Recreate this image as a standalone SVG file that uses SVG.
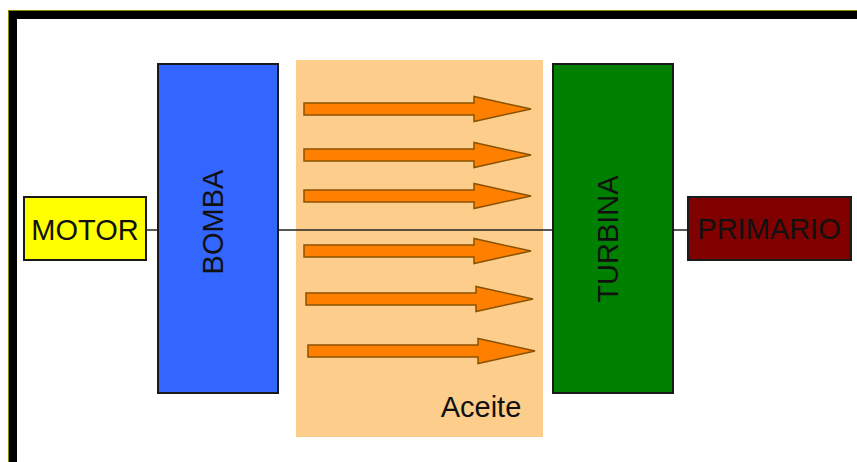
<svg xmlns="http://www.w3.org/2000/svg" width="857" height="462" viewBox="0 0 857 462">
  <style>
    .box { stroke: #1a1a1a; stroke-width: 2; }
    .lbl { font-family: "Liberation Sans", Arial, sans-serif; font-size: 29px; fill: #111; text-anchor: middle; }
    .flow { fill: #ff8000; stroke: #8a5200; stroke-width: 1.5; stroke-linejoin: miter; }
    .shaft { stroke: #222; stroke-width: 1.5; fill: none; }
  </style>
  <defs>
    <!-- block arrow, tail at origin, pointing right -->
    <path id="blockArrow" d="M0,-6 L170,-6 L170,-12.5 L227,0 L170,12.5 L170,6 L0,6 Z"/>
  </defs>

  <rect x="0" y="0" width="857" height="462" fill="#fff"/>

  <!-- frame -->
  <rect x="8.5" y="10.5" width="900" height="500" fill="none" stroke="#8a8a00" stroke-width="1"/>
  <rect x="13" y="15" width="900" height="500" fill="none" stroke="#000" stroke-width="8"/>

  <!-- oil region -->
  <g id="aceite">
    <rect x="296" y="60" width="247" height="377" fill="#fdcd8b"/>
    <text class="lbl" x="481" y="417">Aceite</text>
  </g>

  <!-- drive shaft -->
  <g id="connectors">
    <line class="shaft" x1="146" y1="230" x2="158" y2="230"/>
    <line class="shaft" x1="278" y1="230" x2="553" y2="230"/>
    <line class="shaft" x1="673" y1="230" x2="688" y2="230"/>
  </g>

  <!-- oil flow arrows -->
  <g id="flow">
    <use href="#blockArrow" class="flow" transform="translate(304,109)"/>
    <use href="#blockArrow" class="flow" transform="translate(304,155)"/>
    <use href="#blockArrow" class="flow" transform="translate(304,196)"/>
    <use href="#blockArrow" class="flow" transform="translate(304,251)"/>
    <use href="#blockArrow" class="flow" transform="translate(306,299)"/>
    <use href="#blockArrow" class="flow" transform="translate(308,351)"/>
  </g>

  <g id="motor">
    <rect class="box" x="24" y="197" width="122" height="63" fill="#ffff00"/>
    <text class="lbl" x="85" y="240">MOTOR</text>
  </g>

  <g id="bomba">
    <rect class="box" x="158" y="64" width="120" height="329" fill="#3366ff"/>
    <text class="lbl" transform="translate(223,222) rotate(-90)">BOMBA</text>
  </g>

  <g id="turbina">
    <rect class="box" x="553" y="64" width="120" height="329" fill="#008000"/>
    <text class="lbl" transform="translate(618,239) rotate(-90)">TURBINA</text>
  </g>

  <g id="primario">
    <rect class="box" x="688" y="197" width="163" height="63" fill="#800000"/>
    <text class="lbl" x="769" y="239">PRIMARIO</text>
  </g>
</svg>
